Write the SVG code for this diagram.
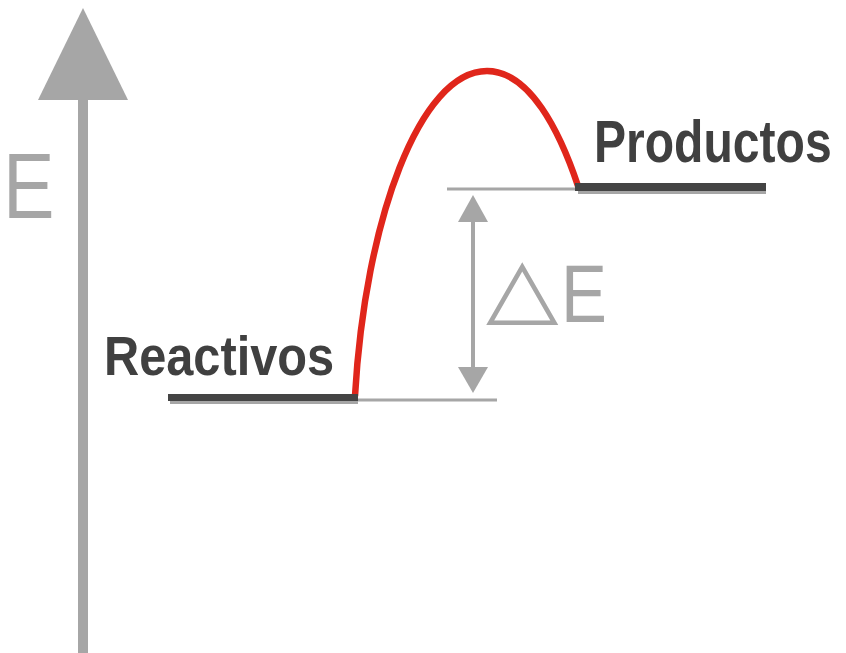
<svg xmlns="http://www.w3.org/2000/svg" width="846" height="653" viewBox="0 0 846 653">
<style>
.gray{fill:#a6a6a6}
.lbl{font-family:"Liberation Sans",Arial,sans-serif;font-weight:bold;fill:#404040}
.reg{font-family:"Liberation Sans",Arial,sans-serif;fill:#a6a6a6}
</style>
<rect width="846" height="653" fill="#ffffff"/>
<g id="axis">
  <rect x="78" y="98" width="10" height="555" class="gray"/>
  <polygon points="83,8 128,100 38,100" class="gray"/>
  <text transform="translate(3,218) scale(0.83,1)" class="reg" font-size="93">E</text>
</g>
<g id="connectors">
  <line x1="447" y1="189" x2="578" y2="189" stroke="#a6a6a6" stroke-width="3"/>
  <line x1="340" y1="400" x2="497" y2="400" stroke="#a6a6a6" stroke-width="3"/>
  <line x1="473" y1="215" x2="473" y2="375" stroke="#a6a6a6" stroke-width="4"/>
  <polygon points="473,195 488,222 458,222" class="gray"/>
  <polygon points="473,393 488,367 458,367" class="gray"/>
  <path d="M355,396 C365,220 420,71 487,71 C530,71 560,132 578,186" fill="none" stroke="#e0261b" stroke-width="6.5"/>
</g>
<g id="reactivos">
  <rect x="170" y="400" width="188" height="4" fill="#a6a6a6"/>
  <rect x="168" y="394" width="190" height="7" fill="#444444"/>
  <text transform="translate(104,375) scale(0.87,1)" class="lbl" font-size="56">Reactivos</text>
</g>
<g id="productos">
  <rect x="578" y="190" width="188" height="4" fill="#a6a6a6"/>
  <rect x="575" y="183" width="191" height="8" fill="#444444"/>
  <text transform="translate(594,162) scale(0.815,1)" class="lbl" font-size="59">Productos</text>
</g>
<g id="deltaE">
  <text transform="translate(486,315) scale(1.15,1)" font-family="DejaVu Sans,sans-serif" font-size="82" fill="#a6a6a6">△</text>
  <text transform="translate(561,322) scale(0.84,1)" class="reg" font-size="82">E</text>
</g>
</svg>
